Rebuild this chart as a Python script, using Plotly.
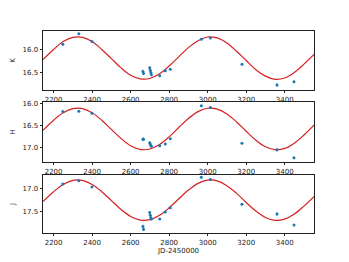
import plotly.graph_objects as go

# observation epochs (JD-2450000)
t_obs = [2248, 2331, 2399, 2664, 2667, 2699, 2702, 2705, 2708, 2751, 2780, 2806, 2967, 3014, 3178, 3360, 3448]
k_mag = [15.89, 15.66, 15.83, 16.48, 16.52, 16.40, 16.45, 16.50, 16.55, 16.57, 16.46, 16.43, 15.78, 15.75, 16.32, 16.77, 16.70]
h_mag = [16.18, 16.17, 16.22, 16.81, 16.81, 16.89, 16.92, 16.95, 16.97, 16.96, 16.92, 16.80, 16.05, 16.09, 16.90, 17.05, 17.23]
j_mag = [16.91, 16.84, 16.97, 17.82, 17.88, 17.52, 17.58, 17.63, 17.66, 17.66, 17.51, 17.42, 16.76, 16.81, 17.34, 17.55, 17.79]
mag_err = [0.02, 0.02, 0.02, 0.04, 0.04, 0.03, 0.03, 0.03, 0.03, 0.02, 0.02, 0.02, 0.02, 0.02, 0.02, 0.04, 0.02]

# fitted light-curve samples
t_fit = [2145, 2200, 2250, 2300, 2350, 2400, 2450, 2500, 2550, 2600, 2650, 2700, 2750, 2800, 2850,
         2900, 2950, 3000, 3050, 3100, 3150, 3200, 3250, 3300, 3350, 3400, 3450, 3500, 3552]
k_fit = [16.22, 16.00, 15.83, 15.74, 15.74, 15.83, 16.00, 16.20, 16.40, 16.56, 16.64, 16.63, 16.53, 16.36, 16.16,
         15.96, 15.81, 15.73, 15.75, 15.86, 16.04, 16.24, 16.44, 16.58, 16.65, 16.62, 16.50, 16.32, 16.11]
h_fit = [16.607, 16.376, 16.206, 16.112, 16.112, 16.206, 16.376, 16.586, 16.794, 16.957, 17.042, 17.032, 16.930, 16.755, 16.543,
         16.338, 16.181, 16.104, 16.124, 16.235, 16.416, 16.629, 16.831, 16.981, 17.048, 17.019, 16.899, 16.714, 16.491]
j_fit = [17.285, 17.073, 16.917, 16.831, 16.831, 16.917, 17.073, 17.265, 17.455, 17.605, 17.683, 17.674, 17.580, 17.419, 17.225,
         17.038, 16.894, 16.824, 16.842, 16.944, 17.109, 17.304, 17.489, 17.626, 17.688, 17.661, 17.552, 17.382, 17.178]

band_names = ["K", "H", "J"]
x_ticks = [2200, 2400, 2600, 2800, 3000, 3200, 3400]

x_range = [2145, 3552]
y_ranges = [[16.88, 15.60], [17.33, 15.96], [17.96, 16.715]]
y_ticks = [[16.0, 16.5], [16.0, 16.5, 17.0], [17.0, 17.5]]
domains = [[0.708, 1.0], [0.351, 0.649], [0.0, 0.287]]

obs = [k_mag, h_mag, j_mag]
fits = [k_fit, h_fit, j_fit]

fig = go.Figure()
for i in range(3):
    sfx = "" if i == 0 else str(i + 1)
    fig.add_trace(go.Scatter(
        x=t_fit, y=fits[i], mode="lines", line=dict(color="#d62020", width=1.2, shape="spline"),
        xaxis="x" + sfx, yaxis="y" + sfx, showlegend=False, hoverinfo="skip"))
    fig.add_trace(go.Scatter(
        x=t_obs, y=obs[i], mode="markers",
        marker=dict(color="#1f77b4", size=3),
        error_y=dict(type="data", array=mag_err, color="#1f77b4", thickness=0.8, width=0),
        xaxis="x" + sfx, yaxis="y" + sfx, showlegend=False))

font = dict(family="DejaVu Sans", size=7, color="#222")
axis_common = dict(showline=True, linecolor="#222", linewidth=0.8, mirror=True,
                   ticks="outside", ticklen=2.5, tickwidth=0.8, tickcolor="#222",
                   showgrid=False, zeroline=False, tickfont=font, automargin=False)

# the page body adds an 8px offset, so the figure is sized to fit the 349x262 window
layout = dict(width=341, height=254, margin=dict(l=35, r=35, t=23, b=29),
              paper_bgcolor="white", plot_bgcolor="white", showlegend=False)
for i in range(3):
    sfx = "" if i == 0 else str(i + 1)
    xa = dict(axis_common, range=x_range, tickvals=x_ticks, anchor="y" + sfx)
    if i > 0:
        xa["matches"] = "x"
    if i == 2:
        xa["title"] = dict(text="JD-2450000", font=font, standoff=2)
    ya = dict(axis_common, range=y_ranges[i], tickvals=y_ticks[i], tickformat=".1f",
              domain=domains[i], anchor="x" + sfx,
              title=dict(text=band_names[i], font=font, standoff=6))
    layout["xaxis" + sfx] = xa
    layout["yaxis" + sfx] = ya

fig.update_layout(**layout)
fig.write_html("out.html")
